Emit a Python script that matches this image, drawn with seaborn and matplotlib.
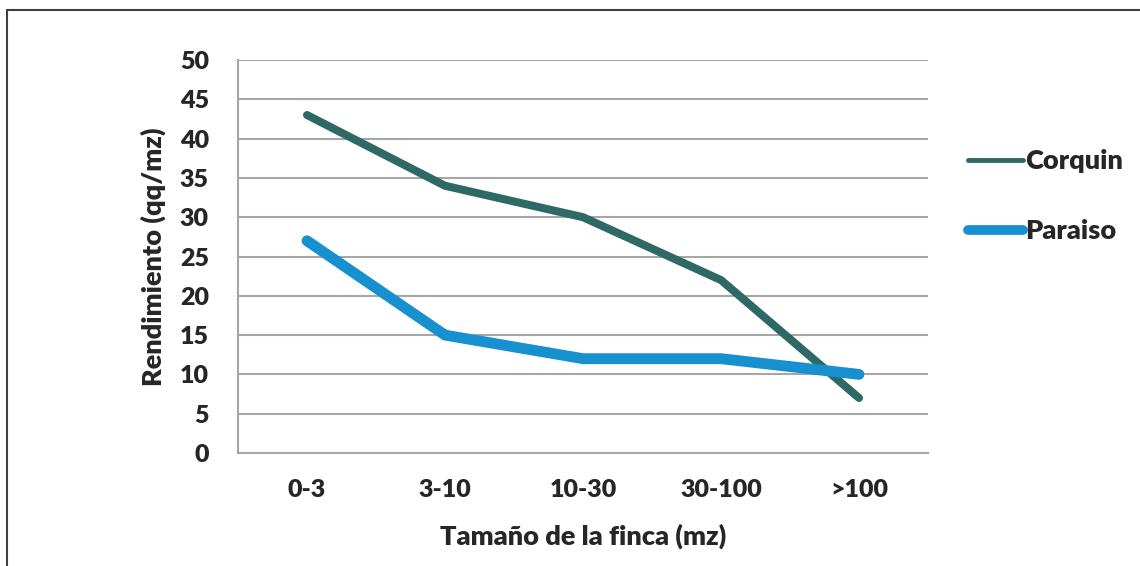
import matplotlib
matplotlib.use("Agg")
import matplotlib.pyplot as plt
import matplotlib.patches as mpatches
from matplotlib.lines import Line2D
import seaborn as sns
import pandas as pd

categorias = ["0-3", "3-10", "10-30", "30-100", ">100"]
corquin = [43, 34, 30, 22, 7]
paraiso = [27, 15, 12, 12, 10]
y_ticks = [0, 5, 10, 15, 20, 25, 30, 35, 40, 45, 50]

colores = {"Corquin": "#2f6965", "Paraiso": "#1790cf"}
anchos = {"Corquin": 5.8, "Paraiso": 7.8}

df = pd.DataFrame({
    "pos": list(range(len(categorias))) * 2,
    "rend": corquin + paraiso,
    "serie": ["Corquin"] * len(corquin) + ["Paraiso"] * len(paraiso),
})

sns.set_style("white")
plt.rcParams["font.family"] = ["Lato", "DejaVu Sans"]
peso = "heavy"

fig = plt.figure(figsize=(11.4, 5.66), dpi=100)
ax = fig.add_axes([238 / 1140, 113 / 566, 690 / 1140, 393 / 566])

for serie in ["Corquin", "Paraiso"]:
    sub = df[df["serie"] == serie]
    sns.lineplot(data=sub, x="pos", y="rend", ax=ax, color=colores[serie],
                 linewidth=anchos[serie], solid_capstyle="round",
                 solid_joinstyle="round", legend=False, zorder=3)

ax.set_xlim(-0.5, len(categorias) - 0.5)
ax.set_ylim(0, 50)
ax.set_yticks(y_ticks)
ax.set_yticklabels([str(v) for v in y_ticks], fontsize=18, fontweight=peso)
ax.set_xticks(range(len(categorias)))
ax.set_xticklabels(categorias, fontsize=18, fontweight=peso)
ax.set_xticks([i - 0.5 for i in range(len(categorias) + 1)], minor=True)

gris = "#a6a6a6"
ax.grid(axis="y", color=gris, linewidth=1.5, zorder=0)
ax.tick_params(axis="y", which="major", length=7, width=1.5, color=gris, pad=14)
ax.tick_params(axis="x", which="major", length=0, pad=19)
ax.tick_params(axis="x", which="minor", length=7, width=1.5, color=gris)
for side in ["top", "right"]:
    ax.spines[side].set_visible(False)
for side in ["left", "bottom"]:
    ax.spines[side].set_color(gris)
    ax.spines[side].set_linewidth(1.5)

ax.set_xlabel("Tamaño de la finca (mz)", fontsize=19.5, fontweight=peso, labelpad=16)
ax.set_ylabel("Rendimiento (qq/mz)", fontsize=19.5, fontweight=peso, labelpad=10)

handles = [
    Line2D([0], [0], color=colores["Corquin"], linewidth=3.5, solid_capstyle="round"),
    Line2D([0], [0], color=colores["Paraiso"], linewidth=7, solid_capstyle="round"),
]
leg = fig.legend(handles, ["Corquin", "Paraiso"], loc="upper left",
                 bbox_to_anchor=(944 / 1140, 1 - 125 / 566), frameon=False,
                 prop={"size": 19.5, "weight": peso}, handlelength=2.0,
                 handletextpad=0.1, labelspacing=1.7)

# frame around the figure
fig.add_artist(mpatches.Rectangle((7 / 1140, -0.05), 1.2, 1 - 10 / 566 + 0.05,
                                  transform=fig.transFigure, fill=False,
                                  edgecolor="#404040", linewidth=1.5))

fig.savefig("out.png", dpi=100)
